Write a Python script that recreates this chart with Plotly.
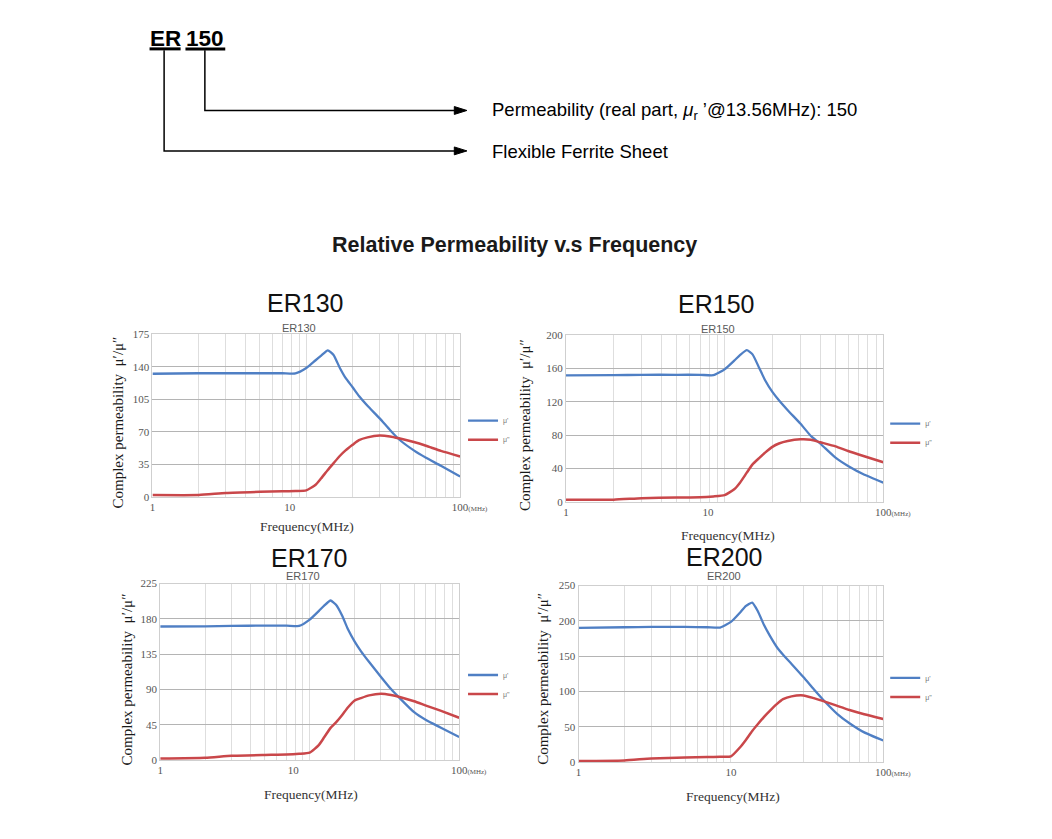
#importando as bibliotecas necessarias
import plotly.graph_objects as go

# tamanho de referencia da imagem (px), usado so para converter posicoes em fracao do papel
W, H = 1052, 839

#===========dados==============================
# frequencia (MHz), mesma grade para as quatro folhas
freq = [1, 2, 3, 5, 7, 8.5, 10, 11.5, 12.5, 13.8, 15, 16.5, 18, 20, 22, 25, 30, 35, 40, 50, 60, 75, 100]

er130_real = [132.5, 133, 133, 133, 133, 132.8, 138.6, 147, 152, 157.7, 153, 139, 128, 118, 108.5, 98, 84.5, 72, 62, 50, 42, 33.5, 22]
er130_imag = [2, 2, 4.3, 5.5, 6, 6.3, 7, 13, 20, 29, 36, 44, 50, 56, 61, 64, 66, 65, 63, 59, 55, 49.5, 43.5]

er150_real = [151.7, 152, 152.5, 152.5, 152.5, 152, 159, 169.5, 176, 182, 177, 161, 146, 132, 122, 110, 94, 79, 70, 53, 43, 33, 23]
er150_imag = [2.5, 2.5, 4.4, 5.2, 5.5, 6.5, 8, 15, 23, 35, 45, 52.5, 59, 66, 70, 73, 75, 74.5, 71.5, 66.5, 61, 55, 47.5]

er170_real = [170.3, 170.5, 171, 171.5, 171.5, 171, 179, 190, 197, 203.5, 198, 184, 167, 151, 139, 125, 106, 90.5, 79, 61, 51, 41.5, 29.3]
er170_imag = [2, 3, 5.5, 6.5, 7, 8, 9.5, 19, 29, 41, 48, 57.5, 67, 76, 79, 82.5, 84.5, 83, 80.5, 75, 69.5, 63, 54]

er200_real = [190, 191, 191.5, 191.5, 191, 190.5, 198.5, 212, 221, 226, 214, 194, 179, 163, 152, 139, 120, 103, 89, 68, 55, 42, 30.5]
er200_imag = [1.5, 2.3, 5, 6.5, 7, 7.5, 8, 21, 31, 44, 53.5, 64, 72.5, 82, 89, 93, 94.3, 90.5, 86.6, 79.5, 73.8, 67.8, 61]

names = ['ER130', 'ER150', 'ER170', 'ER200']
reals = [er130_real, er150_real, er170_real, er200_real]
imags = [er130_imag, er150_imag, er170_imag, er200_imag]
y_max = [175, 200, 225, 250]
y_step = [35, 40, 45, 50]

grid_vals = [1, 2, 3, 4, 5, 6, 7, 8, 9, 10, 20, 30, 40, 50, 60, 70, 80, 90, 100]
HIDE = "<span style='color:rgba(0,0,0,0)'>000000</span>"
MHZ = "<span style='font-size:7px'>(MHz)</span>"
MHZ_HIDE = "<span style='font-size:7px;color:rgba(0,0,0,0)'>(MHz)</span>"
# nos tres primeiros graficos o rotulo "10" fica um pouco a esquerda da linha
ten_label = ['10' + HIDE, '10' + HIDE, '10' + HIDE, '10']

BLUE = '#4f7fc4'
RED = '#c9474a'
SERIF = 'Liberation Serif'
SANS = 'Liberation Sans'


def px_x(v):
    return v / W


def px_y(v):
    return 1 - v / H


# caixa de cada grafico em pixels: x0, x1, y0(topo), y1(base)
boxes = [(154, 471, 333, 498), (580, 907, 334, 503), (162, 470, 586, 765), (593, 907, 588, 767)]
big_title_pos = [(311, 301), (735, 302), (315, 560), (743, 559)]
small_title_pos = [(305, 327), (737, 328), (309, 578), (743, 578)]
xtitle_pos = [(313, 528), (747, 537), (317, 800), (752, 802)]
ytitle_pos = [(118, 423), (538, 425), (128, 683), (557, 683)]
legend_pos = [(474, 406), (909, 409), (474, 664), (909, 667)]

fig = go.Figure()
layout = {}
annotations = []


def note(x, y, text, size, color, family=SANS, xanchor='center', **kw):
    annotations.append(dict(x=px_x(x), y=px_y(y), xref='paper', yref='paper', text=text,
                            xanchor=xanchor, yanchor='middle', showarrow=False,
                            font=dict(family=family, size=size, color=color), **kw))


for i, nm in enumerate(names):
    n = '' if i == 0 else str(i + 1)
    leg = 'legend' + n
    fig.add_trace(go.Scatter(x=freq, y=reals[i], xaxis='x' + n, yaxis='y' + n, name="μ'",
                             line=dict(color=BLUE, width=2.3, shape='spline', smoothing=0.5),
                             legend=leg, mode='lines'))
    fig.add_trace(go.Scatter(x=freq, y=imags[i], xaxis='x' + n, yaxis='y' + n, name='μ"',
                             line=dict(color=RED, width=2.5, shape='spline', smoothing=0.5),
                             legend=leg, mode='lines'))

    grid_text = ['1'] + [''] * 8 + [ten_label[i]] + [''] * 8 + [MHZ_HIDE + '100' + MHZ]

    x0, x1, y0, y1 = boxes[i]
    layout['xaxis' + n] = dict(type='log', range=[0, 2], domain=[px_x(x0), px_x(x1)], anchor='y' + n,
                               tickvals=grid_vals, ticktext=grid_text, showgrid=True,
                               gridcolor='#dedede', gridwidth=1, showline=True, linecolor='#cfcfcf',
                               mirror=True, ticks='', zeroline=False,
                               tickfont=dict(family=SERIF, size=11, color='#555'))
    layout['yaxis' + n] = dict(range=[0, y_max[i]], dtick=y_step[i], domain=[px_y(y1), px_y(y0)],
                               anchor='x' + n, showgrid=True, gridcolor='#b4b4b4', gridwidth=1.3,
                               showline=True, linecolor='#cfcfcf', mirror=True, ticks='',
                               zeroline=False, tickfont=dict(family=SERIF, size=11, color='#555'))
    lx, ly = legend_pos[i]
    layout[leg] = dict(x=px_x(lx), y=px_y(ly), xanchor='left', yanchor='top',
                       font=dict(family=SANS, size=7, color='#777'), bgcolor='rgba(0,0,0,0)',
                       itemwidth=30)

    # titulos e eixos
    note(*big_title_pos[i], nm, 25, '#111')
    note(*small_title_pos[i], nm, 11, '#595959')
    note(*xtitle_pos[i], 'Frequency(MHz)', 13.5, '#333', family=SERIF)
    note(*ytitle_pos[i], 'Complex permeability  μ′/μ″', 15, '#1a1a1a', family=SERIF, textangle=-90)

#===========parte de cima: codigo do produto=============
note(167, 33, '<b>ER</b>', 22.5, 'black')
note(208.5, 33, '<b>150</b>', 22.5, 'black')
note(502, 107, "Permeability (real part, <i>μ</i><sub>r</sub> ’@13.56MHz): 150", 18.5, 'black', xanchor='left')
note(502, 148, 'Flexible Ferrite Sheet', 18.5, 'black', xanchor='left')
note(527, 242, '<b>Relative Permeability v.s Frequency</b>', 21.5, '#1a1a1a')


def path(pts):
    return 'M ' + ' L '.join('%f,%f' % (px_x(a), px_y(b)) for a, b in pts)


shapes = [
    dict(type='line', xref='paper', yref='paper', x0=px_x(151), x1=px_x(183), y0=px_y(43.5), y1=px_y(43.5),
         line=dict(color='black', width=3)),
    dict(type='line', xref='paper', yref='paper', x0=px_x(188), x1=px_x(229), y0=px_y(43.5), y1=px_y(43.5),
         line=dict(color='black', width=3)),
    dict(type='path', xref='paper', yref='paper', path=path([(208, 45), (208, 106), (467, 106)]),
         line=dict(color='black', width=1.5)),
    dict(type='path', xref='paper', yref='paper', path=path([(166, 45), (166, 147), (467, 147)]),
         line=dict(color='black', width=1.5)),
    dict(type='path', xref='paper', yref='paper', path=path([(465, 102), (478, 106), (465, 110)]) + ' Z',
         fillcolor='black', line=dict(color='black', width=1)),
    dict(type='path', xref='paper', yref='paper', path=path([(465, 143), (478, 147), (465, 151)]) + ' Z',
         fillcolor='black', line=dict(color='black', width=1)),
]

# figura ocupa a janela inteira
fig.update_layout(autosize=True, margin=dict(l=0, r=0, t=0, b=0),
                  paper_bgcolor='white', plot_bgcolor='white',
                  annotations=annotations, shapes=shapes, **layout)

fig.write_html("out.html", config={'displayModeBar': False},
               default_width='100vw', default_height='100vh',
               post_script="document.body.style.margin='0';document.body.style.overflow='hidden';")
